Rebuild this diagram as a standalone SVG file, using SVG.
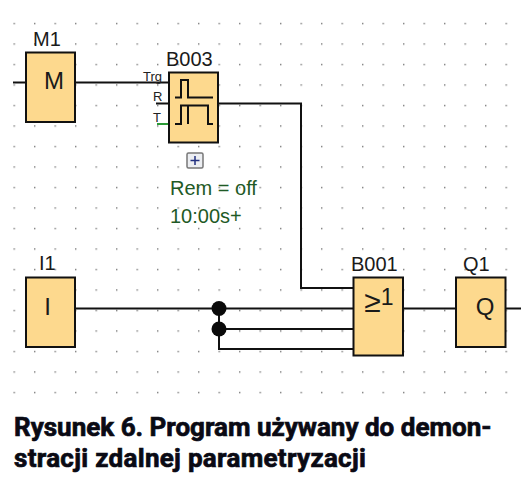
<svg xmlns="http://www.w3.org/2000/svg" width="532" height="481" viewBox="0 0 532 481">
<style>
.block{fill:#fdd98e;stroke:#111;stroke-width:2}
.w{fill:none;stroke:#111;stroke-width:2}
.lbl{font-family:"Liberation Sans",Arial,sans-serif;font-size:20px;fill:#1a1a1a}
.sym{font-family:"Liberation Sans",Arial,sans-serif;font-size:24px;fill:#1a1a1a;text-anchor:middle}
.pin{font-family:"Liberation Sans",Arial,sans-serif;font-size:13px;fill:#222}
.par{font-family:"Liberation Sans",Arial,sans-serif;font-size:20px;fill:#1f5a26}
.cap{font-family:"Roboto","Liberation Sans",sans-serif;font-weight:700;font-size:26px;fill:#0a0a14;stroke:#0a0a14;stroke-width:.7}
.sig{fill:none;stroke:#111;stroke-width:2}
</style>
<defs>
<pattern id="grid" x="13.5" y="22.8" width="20.5" height="20.5" patternUnits="userSpaceOnUse">
<rect x="0" y="0" width="1.4" height="1.4" fill="#777"/>
</pattern>
</defs>
<rect width="532" height="481" fill="#fff"/>
<rect id="dots" x="13" y="22" width="495" height="373" fill="url(#grid)"/>
<g id="connectors">
<path class="w" d="M13 82.5H26"/>
<path class="w" d="M75 82.5H169"/>
<path class="w" d="M156 103.5H169"/>
<path d="M157 124H168" fill="none" stroke="#2a9a35" stroke-width="2"/>
<path class="w" d="M218 103.5H301V288H354"/>
<path class="w" d="M75 308.5H354"/>
<path class="w" d="M219 329H354"/>
<path class="w" d="M219 308.5V349H354"/>
<path class="w" d="M403 308.5H456"/>
<path class="w" d="M505 308.5H521"/>
<circle cx="219" cy="308.5" r="7.5" fill="#0a0a0a"/>
<circle cx="219" cy="329" r="7.5" fill="#0a0a0a"/>
</g>
<g id="M1">
<rect class="block" x="26" y="52.5" width="49" height="69.5"/>
<text class="lbl" x="33" y="46">M1</text>
<text class="sym" x="54" y="89">M</text>
</g>
<g id="B003">
<rect class="block" x="169" y="72.5" width="49" height="70"/>
<text class="lbl" x="166" y="66">B003</text>
<text class="pin" x="143" y="81">Trg</text>
<text class="pin" x="153" y="101">R</text>
<text class="pin" x="153" y="122">T</text>
<path class="sig" d="M175 97.500H181V80H188V97.500H213"/>
<path class="sig" d="M175 124H181V105.500H208V124H213"/>
<path class="sig" d="M188 105.500V124"/>
<g id="B003-expand">
<rect x="187" y="153" width="16" height="15" rx="1.5" fill="#eceef2" stroke="#777" stroke-width="1.5"/>
<path d="M190.500 160.500H199.500M195 156V165" stroke="#223080" stroke-width="1.500" fill="none"/>
</g>
<text class="par" x="170" y="195">Rem = off</text>
<text class="par" x="170" y="223">10:00s+</text>
</g>
<g id="I1">
<rect class="block" x="26" y="277.500" width="49" height="69.500"/>
<text class="lbl" x="39" y="270">I1</text>
<text class="sym" x="47.500" y="315">I</text>
</g>
<g id="B001">
<rect class="block" x="353.500" y="277.500" width="49.500" height="78"/>
<text class="lbl" x="351" y="271">B001</text>
<text class="sym" x="379" y="312"><tspan font-size="30">≥</tspan><tspan font-size="23" dy="-7">1</tspan></text>
</g>
<g id="Q1">
<rect class="block" x="456" y="277.500" width="49.500" height="69.500"/>
<text class="lbl" x="463" y="271">Q1</text>
<text class="sym" x="485" y="315">Q</text>
</g>
<text class="cap" x="14" y="436">Rysunek 6. Program używany do demon-</text>
<text class="cap" x="14" y="467" letter-spacing=".3">stracji zdalnej parametryzacji</text>
</svg>
